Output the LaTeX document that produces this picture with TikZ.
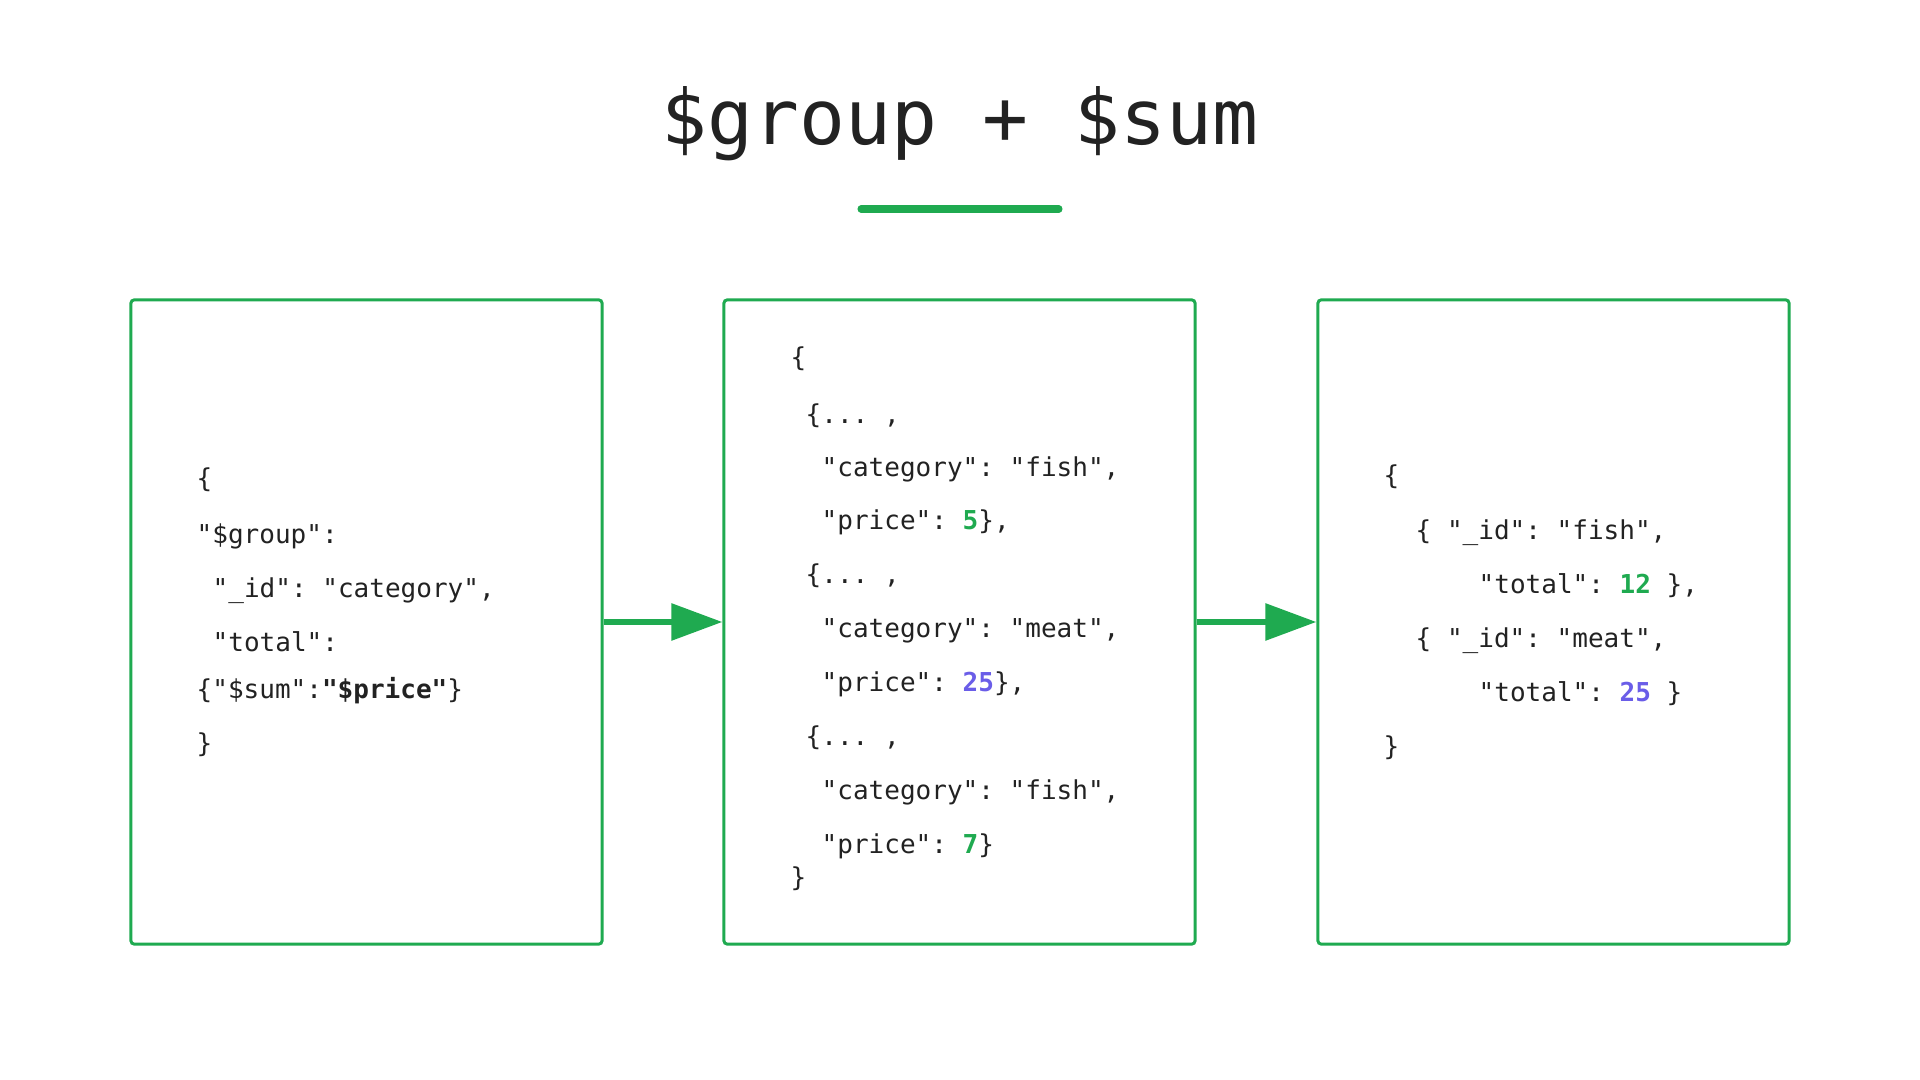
\documentclass[tikz,border=0pt]{standalone}
\usepackage{fontspec}
\setmonofont{DejaVu Sans Mono}
\usetikzlibrary{arrows.meta}
\definecolor{Leaf}{HTML}{1FAA50}
\definecolor{Ink}{HTML}{222222}
\definecolor{Violet}{HTML}{6A5DE8}
\newcommand{\gnum}[1]{\textbf{\textcolor{Leaf}{#1}}}
\newcommand{\vnum}[1]{\textbf{\textcolor{Violet}{#1}}}

\begin{document}
\begin{tikzpicture}[x=0.01cm,y=-0.01cm,
  code/.style={anchor=base west,inner sep=0pt,font=\ttfamily\fontsize{7.4}{9}\selectfont,text=Ink},
  panel/.style={draw=Leaf,line width=.85pt,rounded corners=1pt,minimum width=4.71cm,minimum height=6.44cm,inner sep=0pt},
  flow/.style={-{Triangle[length=5.1mm,width=3.6mm]},Leaf,line width=1.7pt}]
  \useasboundingbox[fill=white] (0,0) rectangle (1920,1080);
  \node[font=\ttfamily\fontsize{21.7}{26}\selectfont,text=Ink,inner sep=0pt] (title) at (960,124) {\$group + \$sum};
  \draw[Leaf,line width=2pt,line cap=round] (861,209) -- (1059,209);
  % the three stages
  \node[panel] (lbox) at (366.5,622) {};
  \node[panel] (mbox) at (959.5,622) {};
  \node[panel] (rbox) at (1553.5,622) {};
  % stage query
  \node[code] (l1) at (196,488) {\{};
  \node[code] (l2) at (196,544) {"\$group":};
  \node[code] (l3) at (212,598) {"\_id": "category",};
  \node[code] (l4) at (212,652) {"total":};
  \node[code] (l5) at (196,699) {\{"\$sum":\textbf{"\$price"}\}};
  \node[code] (l6) at (196,753) {\}};
  % input documents
  \node[code] (m1) at (790,367) {\{};
  \node[code] (m2) at (805,424) {\{... ,};
  \node[code] (m3) at (821,477) {"category": "fish",};
  \node[code] (m4) at (821,530) {"price": \gnum{5}\},};
  \node[code] (m5) at (805,584) {\{... ,};
  \node[code] (m6) at (821,638) {"category": "meat",};
  \node[code] (m7) at (821,692) {"price": \vnum{25}\},};
  \node[code] (m8) at (805,746) {\{... ,};
  \node[code] (m9) at (821,800) {"category": "fish",};
  \node[code] (m10) at (821,854) {"price": \gnum{7}\}};
  \node[code] (m11) at (790,887) {\}};
  % grouped output
  \node[code] (r1) at (1383,485) {\{};
  \node[code] (r2) at (1415,540) {\{ "\_id": "fish",};
  \node[code] (r3) at (1478,594) {"total": \gnum{12} \},};
  \node[code] (r4) at (1415,648) {\{ "\_id": "meat",};
  \node[code] (r5) at (1478,702) {"total": \vnum{25} \}};
  \node[code] (r6) at (1383,756) {\}};
  \draw[flow] (lbox.east) -- (mbox.west);
  \draw[flow] (mbox.east) -- (rbox.west);
\end{tikzpicture}
\end{document}
